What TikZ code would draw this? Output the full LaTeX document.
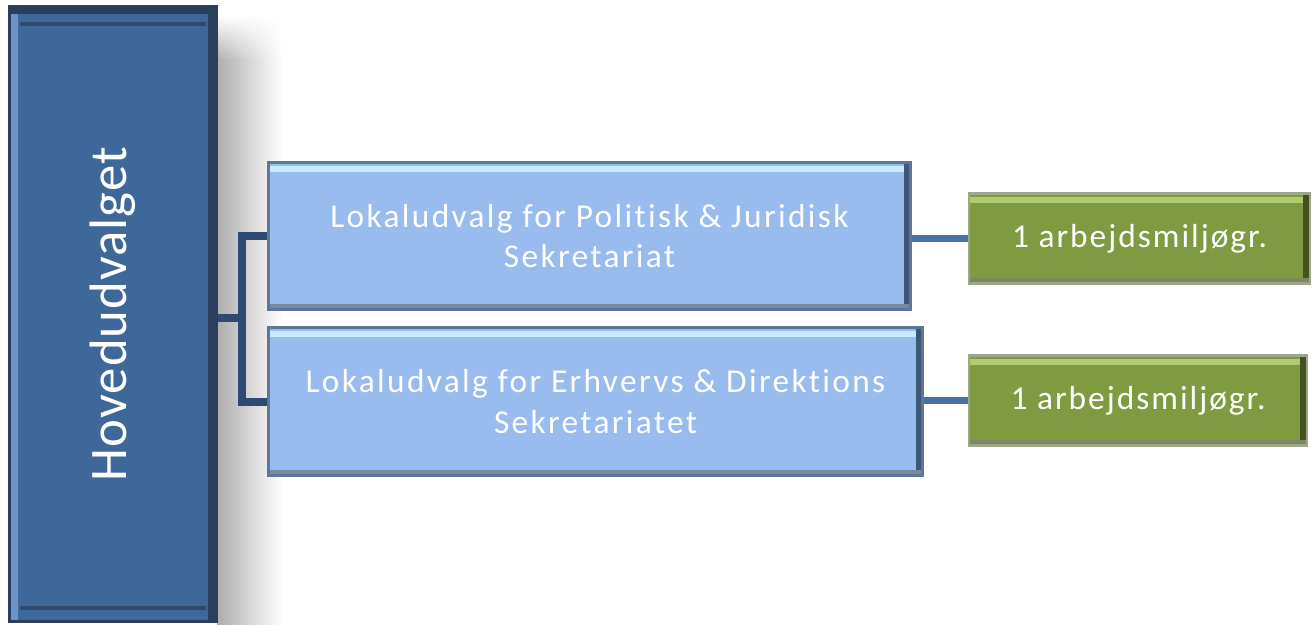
\documentclass[tikz,border=0pt]{standalone}
\usepackage{fontspec}
\setmainfont[Ligatures=NoCommon]{Carlito}
\usetikzlibrary{calc,fadings}
\definecolor{hovedfill}{HTML}{3E6899}
\definecolor{hovededge}{HTML}{2B3F5C}
\definecolor{hovedlight}{HTML}{6A95CC}
\definecolor{lokalfill}{HTML}{98BCEE}
\definecolor{lokaledge}{HTML}{5E7697}
\definecolor{lokallight}{HTML}{C6ECFF}
\definecolor{lokaldark}{HTML}{3E5677}
\definecolor{gruppefill}{HTML}{7F9A40}
\definecolor{gruppeedge}{HTML}{9DA689}
\definecolor{gruppelight}{HTML}{AECB6E}
\definecolor{gruppedark}{HTML}{44521F}
\definecolor{busline}{HTML}{2E4A72}
\definecolor{sideline}{HTML}{4A70A8}
\tikzset{
  bevel/.style 2 args={path picture={
    \fill[#1] ([yshift=-0.7mm]path picture bounding box.north west) rectangle ([yshift=-1.9mm]path picture bounding box.north east);
    \draw[#2, line width=1.3mm] ([xshift=-0.7mm]path picture bounding box.north east) -- ([xshift=-0.7mm]path picture bounding box.south east);
    \draw[#2!70!white, line width=1.1mm] ([yshift=0.6mm]path picture bounding box.south west) -- ([yshift=0.6mm]path picture bounding box.south east);
  }},
  hovedbevel/.style={path picture={
    \draw[hovedlight, line width=1.4mm] ([xshift=1.1mm]path picture bounding box.north west) -- ([xshift=1.1mm]path picture bounding box.south west);
    \fill[hovededge] (path picture bounding box.north west) rectangle ([yshift=-1.6mm]path picture bounding box.north east);
    \draw[hovededge!70!hovedfill, line width=0.7mm] ([xshift=2.2mm,yshift=-3.6mm]path picture bounding box.north west) -- ([xshift=-2.2mm,yshift=-3.6mm]path picture bounding box.north east);
    \draw[hovededge, line width=1.8mm] ([xshift=-0.9mm]path picture bounding box.north east) -- ([xshift=-0.9mm]path picture bounding box.south east);
    \draw[hovededge!70!hovedfill, line width=0.7mm] ([xshift=2.2mm,yshift=2.8mm]path picture bounding box.south west) -- ([xshift=-2.2mm,yshift=2.8mm]path picture bounding box.south east);
  }},
  hovedbox/.style={draw=hovededge, line width=0.6mm, fill=hovedfill, text=white,
    font=\fontsize{30}{34}\selectfont\addfontfeatures{LetterSpace=2}, minimum width=4.16cm, minimum height=12.32cm,
    hovedbevel},
  lokalbox/.style={draw=lokaledge, line width=0.6mm, fill=lokalfill, text=white,
    font=\fontsize{19}{23}\selectfont\addfontfeatures{LetterSpace=7}, align=center, minimum height=2.96cm,
    bevel={lokallight}{lokaldark}},
  gruppebox/.style={draw=gruppeedge, line width=0.5mm, fill=gruppefill, text=white,
    font=\fontsize{19}{23}\selectfont\addfontfeatures{LetterSpace=6}, minimum height=1.8cm,
    bevel={gruppelight}{gruppedark}},
}
\begin{document}
\begin{tikzpicture}[x=0.02cm, y=-0.02cm]
  \useasboundingbox (0,0) rectangle (1312,625);
  % skygge bag hovedudvalget
  \shade[left color=black!32, right color=white] (217,60) rectangle (282,625);
  \shade[left color=black!32, right color=white, path fading=north] (217,15) rectangle (282,60.5);

  \node[hovedbox] (hoved) at (113,314) {\rotatebox{90}{Hovedudvalget}};

  \node[lokalbox, minimum width=12.86cm] (pol) at (589.5,236) {Lokaludvalg for Politisk \& Juridisk\\Sekretariat};
  \node[lokalbox, minimum width=13.1cm] (erh) at (595.5,401.5) {Lokaludvalg for Erhvervs \& Direktions\\Sekretariatet};

  \node[gruppebox, minimum width=6.82cm] (grp1) at (1139.5,238.5) {1 arbejdsmiljøgr.};
  \node[gruppebox, minimum width=6.76cm] (grp2) at (1138,400.5) {1 arbejdsmiljøgr.};

  % forbindelser
  \coordinate (bus) at (242,318);
  \draw[busline, line width=1.6mm] (hoved.east |- bus) -- (bus);
  \draw[busline, line width=1.6mm] (pol.west) -| (bus) |- (erh.west);
  \draw[sideline, line width=1.4mm] (pol.east |- grp1.west) -- (grp1.west);
  \draw[sideline, line width=1.4mm] (erh.east |- grp2.west) -- (grp2.west);
\end{tikzpicture}
\end{document}
